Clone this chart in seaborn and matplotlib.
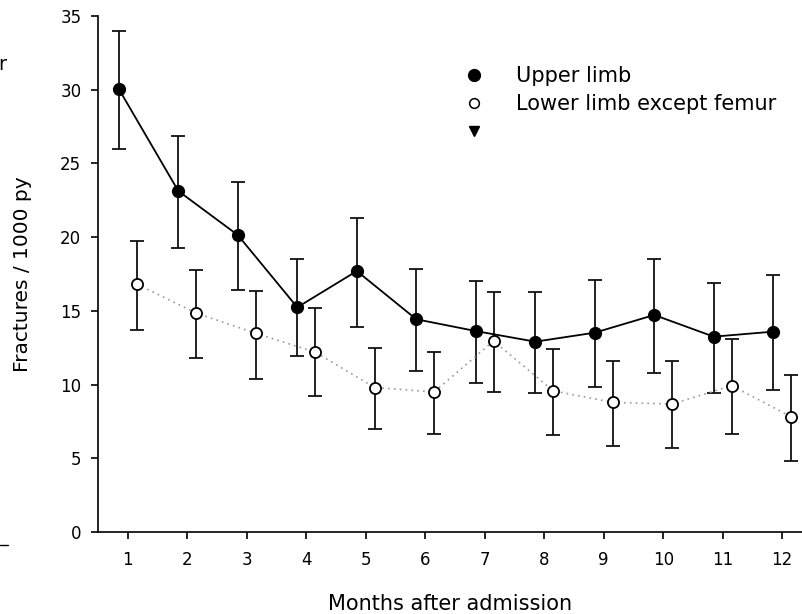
import numpy as np
import pandas as pd
import seaborn as sns
import matplotlib
matplotlib.use("Agg")
import matplotlib.pyplot as plt
from matplotlib.lines import Line2D

months = [1, 2, 3, 4, 5, 6, 7, 8, 9, 10, 11, 12]
upper = [30.05, 23.13, 20.14, 15.24, 17.7, 14.43, 13.63, 12.91, 13.52, 14.72, 13.25, 13.59]
upper_lo = [25.96, 19.28, 16.39, 11.94, 13.9, 10.92, 10.13, 9.41, 9.86, 10.81, 9.45, 9.63]
upper_hi = [34.0, 26.84, 23.76, 18.5, 21.3, 17.84, 17.0, 16.3, 17.1, 18.5, 16.9, 17.4]
lower = [16.82, 14.85, 13.48, 12.2, 9.8, 9.5, 12.96, 9.58, 8.79, 8.68, 9.93, 7.82]
lower_lo = [13.72, 11.8, 10.4, 9.2, 7.0, 6.63, 9.52, 6.56, 5.83, 5.68, 6.65, 4.84]
lower_hi = [19.76, 17.75, 16.37, 15.2, 12.5, 12.21, 16.3, 12.43, 11.6, 11.58, 13.09, 10.67]
legend_labels = ["Upper limb", "Lower limb except femur", " "]

sns.set_style("ticks")
plt.rcParams['font.family'] = ['DejaVu Sans']
plt.rcParams['text.color'] = 'black'
plt.rcParams['axes.labelcolor'] = 'black'
plt.rcParams['xtick.color'] = 'black'
plt.rcParams['ytick.color'] = 'black'

fig = plt.figure(figsize=(8.03, 6.14), dpi=100)
ax = fig.add_axes([98/803, 82/614, 1 - 98/803, (532-16)/614])

off = 0.15
df_u = pd.DataFrame({"x": np.array(months) - off, "y": upper})
df_l = pd.DataFrame({"x": np.array(months) + off, "y": lower})

ekw = dict(fmt="none", ecolor="#111111", elinewidth=1.3, capsize=5, capthick=1.3, zorder=2)
ax.errorbar(df_u["x"], upper, yerr=[np.array(upper) - np.array(upper_lo), np.array(upper_hi) - np.array(upper)], **ekw)
ax.errorbar(df_l["x"], lower, yerr=[np.array(lower) - np.array(lower_lo), np.array(lower_hi) - np.array(lower)], **ekw)

sns.lineplot(data=df_l, x="x", y="y", ax=ax, color="#9a9a9a", linestyle=(0, (1, 2.5)), linewidth=1.2,
             sort=False, zorder=3, legend=False)
sns.lineplot(data=df_u, x="x", y="y", ax=ax, color="black", linewidth=1.3, sort=False, zorder=3, legend=False)
ax.plot(df_l["x"], df_l["y"], linestyle="none", marker="o", markersize=8, markerfacecolor="white",
        markeredgecolor="black", markeredgewidth=1.3, zorder=4)
ax.plot(df_u["x"], df_u["y"], linestyle="none", marker="o", markersize=8.5, markerfacecolor="black",
        markeredgecolor="black", zorder=4)

ax.set_xlim(0.5, 12.35)
ax.set_ylim(0, 35)
ax.set_xticks(months)
ax.set_xticklabels([str(m) for m in months])
ax.set_yticks(range(0, 36, 5))
ax.tick_params(axis="both", direction="out", length=5, width=1.2, labelsize=12, colors="black")
ax.tick_params(axis="x", pad=9)
ax.tick_params(axis="y", pad=7)
for s in ["top", "right"]:
    ax.spines[s].set_visible(False)
for s in ["left", "bottom"]:
    ax.spines[s].set_linewidth(1.2)
    ax.spines[s].set_color("black")

ax.set_xlabel("Months after admission", fontsize=15, labelpad=18, color="black")
ax.set_ylabel("Fractures / 1000 py", fontsize=14.5, labelpad=20, color="black")

handles = [
    Line2D([], [], linestyle="none", marker="o", markersize=8.5, markerfacecolor="black", markeredgecolor="black"),
    Line2D([], [], linestyle="none", marker="o", markersize=7, markerfacecolor="white", markeredgecolor="black",
           markeredgewidth=1.1),
    Line2D([], [], linestyle="none", marker="v", markersize=7.5, markerfacecolor="black", markeredgecolor="black"),
]
leg = ax.legend(handles, legend_labels, frameon=False, loc="upper left", bbox_to_anchor=(0.519, 0.903),
                fontsize=15, handlelength=1.0, handletextpad=1.5, labelspacing=0.38, borderaxespad=0, borderpad=0,
                labelcolor="black")

# fragments of a neighbouring panel at the left edge
fig.text(-0.002, 1 - 64/614, "r", fontsize=14, va="center", ha="left")
fig.add_artist(Line2D([0, 8/803], [1 - 545/614, 1 - 545/614], color="black", linewidth=1.0))

fig.savefig("out.png", dpi=100)
